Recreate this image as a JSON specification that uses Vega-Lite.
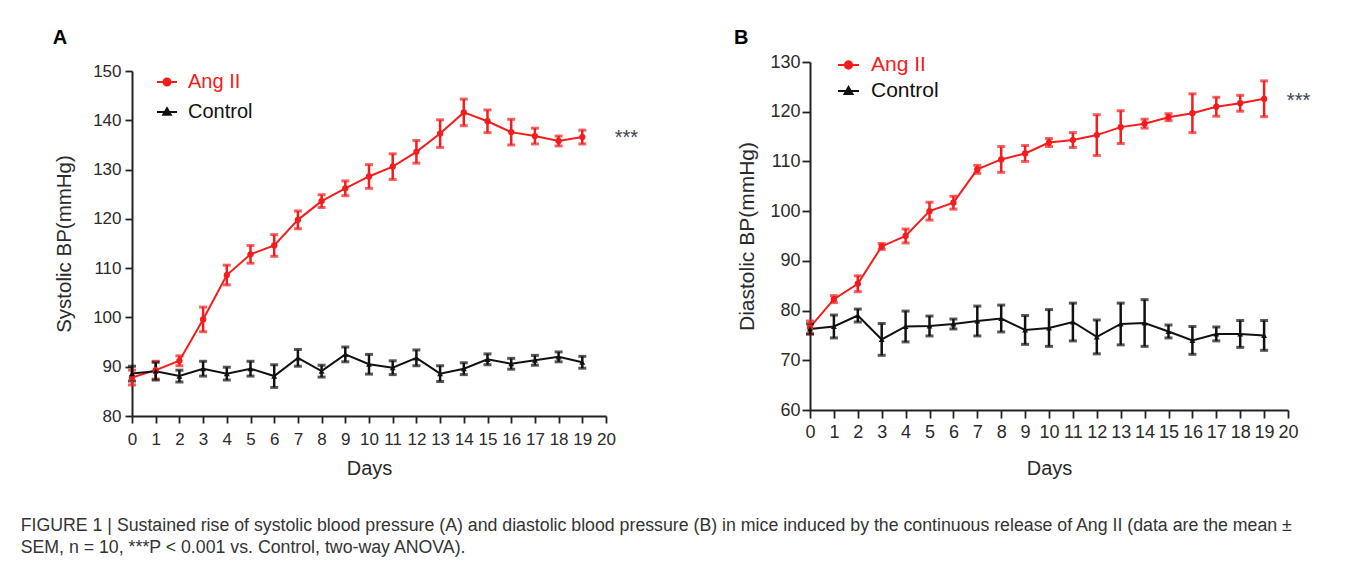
{
  "$schema": "https://vega.github.io/schema/vega-lite/v6.json",
  "background": "white",
  "padding": {"left": 20, "top": 28, "right": 0, "bottom": 0},
  "title": {
    "text": [
      "FIGURE 1 | Sustained rise of systolic blood pressure (A) and diastolic blood pressure (B) in mice induced by the continuous release of Ang II (data are the mean ±",
      "SEM, n = 10, ***P < 0.001 vs. Control, two-way ANOVA)."
    ],
    "orient": "bottom",
    "anchor": "start",
    "frame": "bounds",
    "fontSize": 17.74,
    "fontWeight": "normal",
    "font": "Liberation Sans",
    "color": "#333333",
    "lineHeight": 22,
    "offset": 39,
    "dx": -32
  },
  "datasets": {
    "A": [
      {"group": "Ang II", "day": 0, "mean": 87.8, "sem": 1.5},
      {"group": "Ang II", "day": 1, "mean": 89.3, "sem": 1.8},
      {"group": "Ang II", "day": 2, "mean": 91.2, "sem": 1.0},
      {"group": "Ang II", "day": 3, "mean": 99.6, "sem": 2.5},
      {"group": "Ang II", "day": 4, "mean": 108.6, "sem": 2.0},
      {"group": "Ang II", "day": 5, "mean": 112.8, "sem": 1.8},
      {"group": "Ang II", "day": 6, "mean": 114.6, "sem": 2.2},
      {"group": "Ang II", "day": 7, "mean": 119.8, "sem": 1.8},
      {"group": "Ang II", "day": 8, "mean": 123.6, "sem": 1.3},
      {"group": "Ang II", "day": 9, "mean": 126.2, "sem": 1.5},
      {"group": "Ang II", "day": 10, "mean": 128.6, "sem": 2.4},
      {"group": "Ang II", "day": 11, "mean": 130.6, "sem": 2.6},
      {"group": "Ang II", "day": 12, "mean": 133.6, "sem": 2.3},
      {"group": "Ang II", "day": 13, "mean": 137.3, "sem": 2.8},
      {"group": "Ang II", "day": 14, "mean": 141.6, "sem": 2.7},
      {"group": "Ang II", "day": 15, "mean": 139.8, "sem": 2.3},
      {"group": "Ang II", "day": 16, "mean": 137.6, "sem": 2.6},
      {"group": "Ang II", "day": 17, "mean": 136.8, "sem": 1.6},
      {"group": "Ang II", "day": 18, "mean": 135.8, "sem": 1.0},
      {"group": "Ang II", "day": 19, "mean": 136.6, "sem": 1.4},
      {"group": "Control", "day": 0, "mean": 88.6, "sem": 1.5},
      {"group": "Control", "day": 1, "mean": 89.1, "sem": 1.8},
      {"group": "Control", "day": 2, "mean": 88.1, "sem": 1.2},
      {"group": "Control", "day": 3, "mean": 89.6, "sem": 1.5},
      {"group": "Control", "day": 4, "mean": 88.6, "sem": 1.3},
      {"group": "Control", "day": 5, "mean": 89.6, "sem": 1.5},
      {"group": "Control", "day": 6, "mean": 88.1, "sem": 2.3},
      {"group": "Control", "day": 7, "mean": 91.8, "sem": 1.7},
      {"group": "Control", "day": 8, "mean": 89.1, "sem": 1.2},
      {"group": "Control", "day": 9, "mean": 92.5, "sem": 1.5},
      {"group": "Control", "day": 10, "mean": 90.5, "sem": 2.0},
      {"group": "Control", "day": 11, "mean": 89.8, "sem": 1.4},
      {"group": "Control", "day": 12, "mean": 91.8, "sem": 1.6},
      {"group": "Control", "day": 13, "mean": 88.6, "sem": 1.6},
      {"group": "Control", "day": 14, "mean": 89.6, "sem": 1.2},
      {"group": "Control", "day": 15, "mean": 91.5, "sem": 1.1},
      {"group": "Control", "day": 16, "mean": 90.6, "sem": 1.1},
      {"group": "Control", "day": 17, "mean": 91.3, "sem": 1.0},
      {"group": "Control", "day": 18, "mean": 92.0, "sem": 1.0},
      {"group": "Control", "day": 19, "mean": 90.9, "sem": 1.2}
    ],
    "B": [
      {"group": "Ang II", "day": 0, "mean": 76.6, "sem": 1.3},
      {"group": "Ang II", "day": 1, "mean": 82.3, "sem": 0.7},
      {"group": "Ang II", "day": 2, "mean": 85.4, "sem": 1.6},
      {"group": "Ang II", "day": 3, "mean": 92.9, "sem": 0.6},
      {"group": "Ang II", "day": 4, "mean": 95.0, "sem": 1.4},
      {"group": "Ang II", "day": 5, "mean": 100.0, "sem": 1.8},
      {"group": "Ang II", "day": 6, "mean": 101.7, "sem": 1.3},
      {"group": "Ang II", "day": 7, "mean": 108.4, "sem": 0.8},
      {"group": "Ang II", "day": 8, "mean": 110.4, "sem": 2.6},
      {"group": "Ang II", "day": 9, "mean": 111.6, "sem": 1.6},
      {"group": "Ang II", "day": 10, "mean": 113.8, "sem": 0.8},
      {"group": "Ang II", "day": 11, "mean": 114.3, "sem": 1.5},
      {"group": "Ang II", "day": 12, "mean": 115.3, "sem": 4.1},
      {"group": "Ang II", "day": 13, "mean": 116.9, "sem": 3.3},
      {"group": "Ang II", "day": 14, "mean": 117.6, "sem": 0.9},
      {"group": "Ang II", "day": 15, "mean": 118.9, "sem": 0.7},
      {"group": "Ang II", "day": 16, "mean": 119.7, "sem": 3.9},
      {"group": "Ang II", "day": 17, "mean": 121.0, "sem": 1.9},
      {"group": "Ang II", "day": 18, "mean": 121.7, "sem": 1.6},
      {"group": "Ang II", "day": 19, "mean": 122.6, "sem": 3.6},
      {"group": "Control", "day": 0, "mean": 76.3, "sem": 1.0},
      {"group": "Control", "day": 1, "mean": 76.8, "sem": 2.3},
      {"group": "Control", "day": 2, "mean": 79.0, "sem": 1.3},
      {"group": "Control", "day": 3, "mean": 74.2, "sem": 3.2},
      {"group": "Control", "day": 4, "mean": 76.8, "sem": 3.1},
      {"group": "Control", "day": 5, "mean": 76.9, "sem": 2.0},
      {"group": "Control", "day": 6, "mean": 77.3, "sem": 1.0},
      {"group": "Control", "day": 7, "mean": 77.9, "sem": 3.0},
      {"group": "Control", "day": 8, "mean": 78.4, "sem": 2.7},
      {"group": "Control", "day": 9, "mean": 76.1, "sem": 2.9},
      {"group": "Control", "day": 10, "mean": 76.5, "sem": 3.7},
      {"group": "Control", "day": 11, "mean": 77.7, "sem": 3.8},
      {"group": "Control", "day": 12, "mean": 74.7, "sem": 3.4},
      {"group": "Control", "day": 13, "mean": 77.3, "sem": 4.2},
      {"group": "Control", "day": 14, "mean": 77.5, "sem": 4.7},
      {"group": "Control", "day": 15, "mean": 75.8, "sem": 1.3},
      {"group": "Control", "day": 16, "mean": 74.0, "sem": 2.8},
      {"group": "Control", "day": 17, "mean": 75.3, "sem": 1.4},
      {"group": "Control", "day": 18, "mean": 75.3, "sem": 2.7},
      {"group": "Control", "day": 19, "mean": 75.0, "sem": 3.0}
    ],
    "starsA": [{"day": 20.86, "mean": 136.4, "label": "***"}],
    "starsB": [{"day": 20.44, "mean": 122.1, "label": "***"}]
  },
  "concat": [
    {
      "width": 474,
      "height": 354,
      "title": {"text": "A", "anchor": "start", "frame": "bounds", "fontSize": 20, "fontWeight": "bold", "color": "#000000", "dx": -2, "offset": 14},
      "encoding": {
        "x": {"field": "day", "type": "quantitative", "title": "Days", "scale": {"domain": [0, 20], "nice": false},
          "axis": {"values": [0,1,2,3,4,5,6,7,8,9,10,11,12,13,14,15,16,17,18,19,20], "title": "Days", "labelFontSize": 17, "titleFontSize": 20, "tickSize": 7, "labelPadding": 8, "titlePadding": 11, "labelFlush": false, "labelOverlap": false}},
        "y": {"field": "mean", "type": "quantitative", "title": "Systolic BP(mmHg)", "scale": {"domain": [80, 150], "nice": false, "zero": false, "range": [354, 9]},
          "axis": {"values": [80,90,100,110,120,130,140,150], "title": "Systolic BP(mmHg)", "labelFontSize": 17, "titleFontSize": 20.5, "tickSize": 7, "labelPadding": 4, "titlePadding": 18, "labelOverlap": false}}
      },
      "layer": [
        {
          "data": {"name": "A"},
          "mark": {"type": "line", "strokeWidth": 2},
          "encoding": {
            "color": {"field": "group", "type": "nominal",
              "scale": {"domain": ["Ang II", "Control"], "range": ["#f41c1c", "#111111"]},
              "legend": {
                "orient": "none", "legendX": 24, "legendY": 9, "title": null,
                "labelFontSize": 20, "labelFont": "Liberation Sans", "symbolSize": 400, "symbolStrokeWidth": 2,
                "labelOffset": 10, "rowPadding": 9, "padding": 0,
                "symbolType": "M-1,0H1M-0.35,0A0.35,0.35 0 1 1 0.35,0A0.35,0.35 0 1 1 -0.35,0",
                "encode": {
                  "labels": {"update": {"fill": {"signal": "datum.value === 'Ang II' ? '#f41c1c' : '#111111'"}}},
                  "symbols": {"update": {
                    "shape": {"signal": "datum.value === 'Ang II' ? 'M-1,0H1M-0.35,0A0.35,0.35 0 1 1 0.35,0A0.35,0.35 0 1 1 -0.35,0' : 'M-1,0H1M0,-0.38L0.38,0.28L-0.38,0.28Z'"},
                    "fill": {"signal": "datum.value === 'Ang II' ? '#f41c1c' : '#111111'"},
                    "stroke": {"signal": "datum.value === 'Ang II' ? '#f41c1c' : '#111111'"},
                    "opacity": {"value": 1}
                  }}
                }
              }}
          }
        },
        {
          "data": {"name": "A"},
          "mark": {"type": "errorbar", "thickness": 2.5, "ticks": {"size": 8, "thickness": 3}},
          "encoding": {
            "yError": {"field": "sem"},
            "color": {"field": "group", "type": "nominal"}
          }
        },
        {
          "data": {"name": "A"},
          "transform": [{"filter": "datum.group === 'Ang II'"}],
          "mark": {"type": "point", "filled": true, "size": 40, "opacity": 1, "shape": "circle"},
          "encoding": {"color": {"field": "group", "type": "nominal"}}
        },
        {
          "data": {"name": "A"},
          "transform": [{"filter": "datum.group === 'Control'"}],
          "mark": {"type": "point", "filled": true, "size": 35, "opacity": 1, "shape": "triangle-up"},
          "encoding": {"color": {"field": "group", "type": "nominal"}}
        },
        {
          "data": {"name": "starsA"},
          "mark": {"type": "text", "fontSize": 20, "color": "#3b4252", "baseline": "middle", "align": "center"},
          "encoding": {"text": {"field": "label"}}
        }
      ]
    },
    {
      "width": 478,
      "height": 348,
      "title": {"text": "B", "anchor": "start", "frame": "bounds", "fontSize": 20, "fontWeight": "bold", "color": "#000000", "dx": -3, "offset": 5},
      "encoding": {
        "x": {"field": "day", "type": "quantitative", "title": "Days", "scale": {"domain": [0, 20], "nice": false},
          "axis": {"values": [0,1,2,3,4,5,6,7,8,9,10,11,12,13,14,15,16,17,18,19,20], "title": "Days", "labelFontSize": 18, "titleFontSize": 20, "tickSize": 8, "labelPadding": 5, "titlePadding": 17, "labelFlush": false, "labelOverlap": false}},
        "y": {"field": "mean", "type": "quantitative", "title": "Diastolic BP(mmHg)", "scale": {"domain": [60, 130], "nice": false, "zero": false},
          "axis": {"values": [60,70,80,90,100,110,120,130], "title": "Diastolic BP(mmHg)", "labelFontSize": 18, "titleFontSize": 21, "tickSize": 8, "labelPadding": 2, "titlePadding": 12, "labelOverlap": false}}
      },
      "layer": [
        {
          "data": {"name": "B"},
          "mark": {"type": "line", "strokeWidth": 2},
          "encoding": {
            "color": {"field": "group", "type": "nominal",
              "scale": {"domain": ["Ang II", "Control"], "range": ["#f41c1c", "#111111"]},
              "legend": {
                "orient": "none", "legendX": 27, "legendY": -8.5, "title": null,
                "labelFontSize": 21, "labelFont": "Liberation Sans", "symbolSize": 441, "symbolStrokeWidth": 2,
                "labelOffset": 11, "rowPadding": 4, "padding": 0,
                "symbolType": "M-1,0H1M-0.35,0A0.35,0.35 0 1 1 0.35,0A0.35,0.35 0 1 1 -0.35,0",
                "encode": {
                  "labels": {"update": {"fill": {"signal": "datum.value === 'Ang II' ? '#f41c1c' : '#111111'"}}},
                  "symbols": {"update": {
                    "shape": {"signal": "datum.value === 'Ang II' ? 'M-1,0H1M-0.35,0A0.35,0.35 0 1 1 0.35,0A0.35,0.35 0 1 1 -0.35,0' : 'M-1,0H1M0,-0.38L0.38,0.28L-0.38,0.28Z'"},
                    "fill": {"signal": "datum.value === 'Ang II' ? '#f41c1c' : '#111111'"},
                    "stroke": {"signal": "datum.value === 'Ang II' ? '#f41c1c' : '#111111'"},
                    "opacity": {"value": 1}
                  }}
                }
              }}
          }
        },
        {
          "data": {"name": "B"},
          "mark": {"type": "errorbar", "thickness": 2.5, "ticks": {"size": 8, "thickness": 3}},
          "encoding": {
            "yError": {"field": "sem"},
            "color": {"field": "group", "type": "nominal"}
          }
        },
        {
          "data": {"name": "B"},
          "transform": [{"filter": "datum.group === 'Ang II'"}],
          "mark": {"type": "point", "filled": true, "size": 40, "opacity": 1, "shape": "circle"},
          "encoding": {"color": {"field": "group", "type": "nominal"}}
        },
        {
          "data": {"name": "B"},
          "transform": [{"filter": "datum.group === 'Control'"}],
          "mark": {"type": "point", "filled": true, "size": 35, "opacity": 1, "shape": "triangle-up"},
          "encoding": {"color": {"field": "group", "type": "nominal"}}
        },
        {
          "data": {"name": "starsB"},
          "mark": {"type": "text", "fontSize": 20, "color": "#3b4252", "baseline": "middle", "align": "center"},
          "encoding": {"text": {"field": "label"}}
        }
      ]
    }
  ],
  "columns": 2,
  "align": "none",
  "spacing": 94,
  "resolve": {
    "scale": {"color": "independent"},
    "legend": {"color": "independent"}
  },
  "config": {
    "font": "Liberation Sans",
    "view": {"stroke": null},
    "axis": {
      "grid": false,
      "domainColor": "#222222",
      "tickColor": "#222222",
      "labelColor": "#2a2a2a",
      "titleColor": "#2a2a2a",
      "titleFontWeight": "normal",
      "domainWidth": 2,
      "tickWidth": 1.8,
      "labelFont": "Liberation Sans",
      "titleFont": "Liberation Sans"
    },
    "title": {"font": "Liberation Sans"}
  }
}
